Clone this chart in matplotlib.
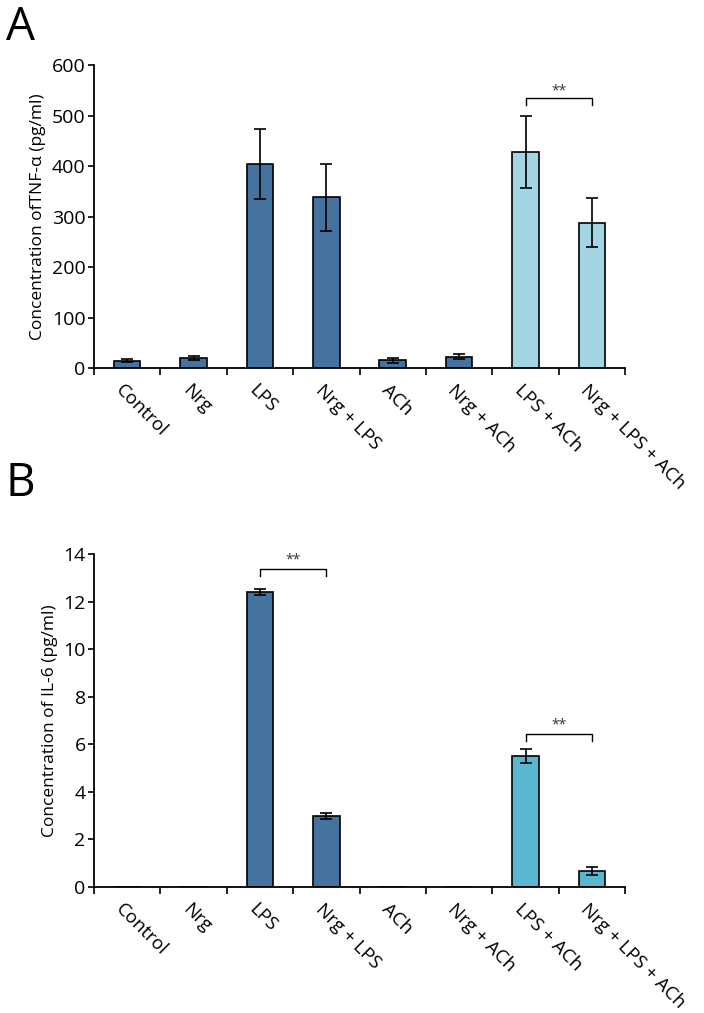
import matplotlib
matplotlib.use("Agg")
import matplotlib.pyplot as plt
import numpy as np

plt.rcParams['font.family'] = ['Open Sans', 'DejaVu Sans']

categories = ["Control", "Nrg", "LPS", "Nrg + LPS", "ACh", "Nrg + ACh", "LPS + ACh", "Nrg + LPS + ACh"]
tnf_values = [14.5, 20.5, 404, 338, 15.5, 22, 428, 288]
tnf_errors = [3, 4, 69, 66, 5, 5, 71, 48]
il6_values = [0, 0, 12.4, 3.0, 0, 0, 5.5, 0.68]
il6_errors = [0, 0, 0.13, 0.13, 0, 0, 0.3, 0.17]

dark_blue = "#46729f"
light_a = "#a3d5e5"
cyan_b = "#5ab7d1"
colors_a = [dark_blue] * 6 + [light_a] * 2
colors_b = [dark_blue] * 6 + [cyan_b] * 2

fig = plt.figure(figsize=(7.04, 10.13), dpi=100)
axA = fig.add_axes([0.1335, 0.6367, 0.7545, 0.2991])
axB = fig.add_axes([0.1335, 0.1244, 0.7545, 0.3287])


def style(ax, values, errors, colors, ymax, ystep, ylabel):
    x = np.arange(len(categories))
    ax.bar(x, values, width=0.4, color=colors, edgecolor="black", linewidth=1.2, zorder=2)
    err_mask = [e > 0 for e in errors]
    xs = x[err_mask]
    ax.errorbar(xs, np.array(values)[err_mask], yerr=np.array(errors)[err_mask], fmt="none",
                ecolor="black", elinewidth=1.2, capsize=4, capthick=1.2, zorder=3)
    ax.set_xlim(-0.5, len(categories) - 0.5)
    ax.set_ylim(0, ymax)
    ax.set_yticks(np.arange(0, ymax + ystep / 2, ystep))
    ax.set_xticks(np.arange(-0.5, len(categories) + 0.5, 1.0))
    ax.set_xticklabels([])
    ax.tick_params(axis="x", direction="out", length=5, width=1.2, bottom=True)
    ax.tick_params(axis="y", direction="out", length=4, width=1.2, labelsize=14, pad=2)
    for s in ["top", "right"]:
        ax.spines[s].set_visible(False)
    for s in ["left", "bottom"]:
        ax.spines[s].set_linewidth(1.3)
    ax.set_ylabel(ylabel, fontsize=12.5, labelpad=4)
    for i, c in enumerate(categories):
        ax.annotate(c, xy=(i, 0), xycoords=("data", "axes fraction"),
                    xytext=(-6, -14), textcoords="offset points",
                    rotation=-45, rotation_mode="anchor", ha="left", va="center",
                    fontsize=13.5)


def bracket(ax, x1, x2, y, drop, text_offset):
    ax.plot([x1, x1, x2, x2], [y - drop, y, y, y - drop], color="black", lw=1.0, clip_on=False)
    ax.text((x1 + x2) / 2, y + text_offset, "**", ha="center", va="center", fontsize=10, color="#333333")


style(axA, tnf_values, tnf_errors, colors_a, 600, 100, "Concentration ofTNF-α (pg/ml)")
style(axB, il6_values, il6_errors, colors_b, 14, 2, "Concentration of IL-6 (pg/ml)")

bracket(axA, 6, 7, 534, 13, 14)
bracket(axB, 2, 3, 13.38, 0.3, 0.35)
bracket(axB, 6, 7, 6.45, 0.3, 0.35)

fig.text(0.008, 0.995, "A", fontsize=33, ha="left", va="top")
fig.text(0.008, 0.545, "B", fontsize=33, ha="left", va="top")

fig.savefig("out.png", dpi=100)
